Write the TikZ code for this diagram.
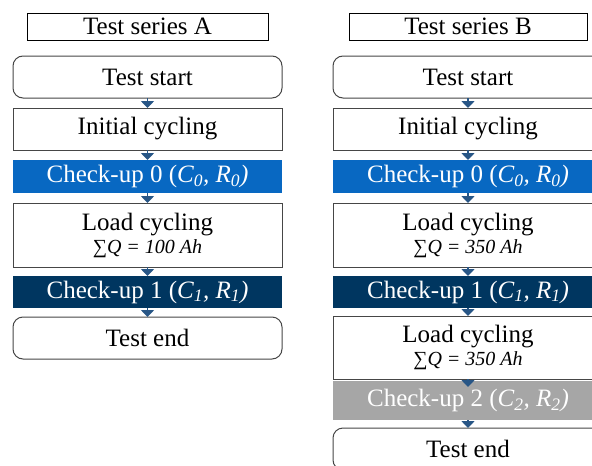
\documentclass[tikz,border=0pt]{standalone}
\usepackage{fontspec}
\setmainfont{Liberation Serif}
\usetikzlibrary{arrows.meta}
\definecolor{cublue}{RGB}{8,104,194}
\definecolor{cunavy}{RGB}{0,54,96}
\definecolor{cugray}{RGB}{166,166,166}
\definecolor{boxgray}{RGB}{70,70,70}
\definecolor{arrowblue}{RGB}{40,86,134}
\begin{document}
\begin{tikzpicture}[x=1pt,y=-1pt,
  base/.style={inner sep=0pt, outer sep=0pt, align=center, font=\fontsize{25}{28}\selectfont},
  box/.style={base, draw=boxgray, line width=1pt, minimum width=269pt, fill=white},
  term/.style={box, rounded corners=10pt, minimum height=42pt},
  proc/.style={box, minimum height=42pt},
  loadbox/.style={box, minimum height=64pt},
  cu/.style={base, fill=#1, text=white, minimum width=269pt, minimum height=33pt},
  ttl/.style={base, draw=black, line width=0.8pt, minimum height=27pt},
  arr/.style={draw=arrowblue, line width=1.6pt, -{Triangle[width=13pt,length=7pt]}}
]
\clip (0,0) rectangle (592,466);
\useasboundingbox (0,0) rectangle (592,466);
% column A
\node[ttl, minimum width=241pt] (tA) at (147.5,26.5) {Test series A};
\node[term] (sA) at (147.5,77) {Test start};
\node[proc] (iA) at (147.5,129) {Initial cycling};
\node[cu=cublue] (c0A) at (147.5,176.5) {Check-up 0 (\textit{C\textsubscript{0}, R\textsubscript{0})}};
\node[loadbox] (lA) at (147.5,235) {Load cycling\\[-5pt]{\fontsize{20}{22}\selectfont ∑\textit{Q = 100 Ah}}};
\node[cu=cunavy, minimum height=32pt] (c1A) at (147.5,292) {Check-up 1 (\textit{C\textsubscript{1}, R\textsubscript{1})}};
\node[term] (eA) at (147.5,338) {Test end};
\draw[arr] (sA.south) -- (iA.north);
\draw[arr] (iA.south) -- (c0A.north);
\draw[arr] (c0A.south) -- (lA.north);
\draw[arr] (lA.south) -- (c1A.north);
\draw[arr] (c1A.south) -- (eA.north);
% column B
\node[ttl, minimum width=238pt] (tB) at (468,26.5) {Test series B};
\node[term, minimum width=270pt] (sB) at (468,77) {Test start};
\node[proc, minimum width=270pt] (iB) at (468,129) {Initial cycling};
\node[cu=cublue, minimum width=270pt] (c0B) at (468,176.5) {Check-up 0 (\textit{C\textsubscript{0}, R\textsubscript{0})}};
\node[loadbox, minimum width=270pt] (lB) at (468,235) {Load cycling\\[-5pt]{\fontsize{20}{22}\selectfont ∑\textit{Q = 350 Ah}}};
\node[cu=cunavy, minimum width=270pt, minimum height=32pt] (c1B) at (468,292) {Check-up 1 (\textit{C\textsubscript{1}, R\textsubscript{1})}};
\node[loadbox, minimum width=270pt, minimum height=63pt] (l2B) at (468,347.5) {Load cycling\\[-5pt]{\fontsize{20}{22}\selectfont ∑\textit{Q = 350 Ah}}};
\node[cu=cugray, minimum width=270pt, minimum height=39pt] (c2B) at (468,400.5) {Check-up 2 (\textit{C\textsubscript{2}, R\textsubscript{2})}};
\node[term, minimum width=270pt] (eB) at (468,449) {Test end};
\draw[arr] (sB.south) -- (iB.north);
\draw[arr] (iB.south) -- (c0B.north);
\draw[arr] (c0B.south) -- (lB.north);
\draw[arr] (lB.south) -- (c1B.north);
\draw[arr] (c1B.south) -- (l2B.north);
\draw[arr] (l2B.south) -- ([yshift=-6pt]c2B.north);
\draw[arr] (c2B.south) -- (eB.north);
\end{tikzpicture}
\end{document}
